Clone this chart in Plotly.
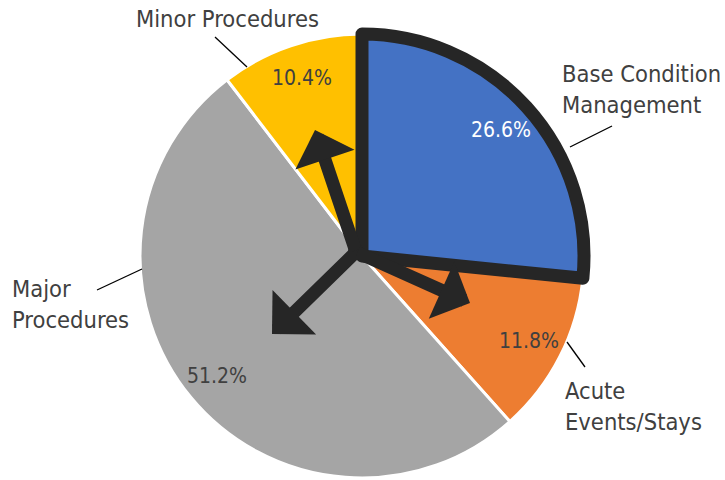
import math
import plotly.graph_objects as go

# ---- data ----
categories = ["Base Condition Management", "Acute Events/Stays", "Major Procedures", "Minor Procedures"]
shares = [26.6, 11.8, 51.2, 10.4]
label_texts = ["Base Condition<br>Management", "Acute<br>Events/Stays", "Major<br>Procedures", "Minor Procedures"]
slice_colors = ["#4472C4", "#ED7D31", "#A5A5A5", "#FFC000"]

# ---- layout constants (pixels) ----
W, H = 725, 480
CX, CY, R = 362, 256, 222
DARK = "#262626"
TEXT = "#404040"
FONT = "DejaVu Sans Condensed, DejaVu Sans, sans-serif"
LABEL_R = 0.845

def px(x):
    return x / W

def py(y):
    return 1 - y / H

total = sum(shares)
# draw highlighted slice last so its heavy outline sits on top
order = [1, 2, 3, 0]
rotation = 360 * shares[0] / total

fig = go.Figure(go.Pie(
    labels=[categories[i] for i in order],
    values=[shares[i] for i in order],
    sort=False,
    direction="clockwise",
    rotation=rotation,
    marker=dict(colors=[slice_colors[i] for i in order],
                line=dict(color=["white", "white", "white", DARK], width=[3, 3, 3, 13])),
    textinfo="none",
    hoverinfo="label+percent",
    showlegend=False,
    domain=dict(x=[px(CX - R), px(CX + R)], y=[py(CY + R), py(CY - R)]),
))

# percentage labels along each slice's mid-angle
cum = 0.0
for i, v in enumerate(shares):
    mid = (cum + v / 2) / total * 2 * math.pi
    cum += v
    lx = CX + LABEL_R * R * math.sin(mid)
    ly = CY - LABEL_R * R * math.cos(mid)
    fig.add_annotation(x=px(lx), y=py(ly), xref="paper", yref="paper",
                       text=f"{v:.1f}%", showarrow=False, xanchor="center", yanchor="middle",
                       font=dict(family=FONT, size=21, color="white" if i == 0 else TEXT))

# category labels (left x / centre y, anchor) and leader lines
label_pos = [(560, 89, "left"), (563, 406, "left"), (10, 304, "left"), (227, 19, "center")]
leaders = [((570, 147), (612, 126)), ((567, 342), (585, 367)), ((97, 290), (142, 269)), ((215, 37), (247, 67))]
for i, txt in enumerate(label_texts):
    x0, y0, anc = label_pos[i]
    fig.add_annotation(x=px(x0), y=py(y0), xref="paper", yref="paper", text=txt,
                       showarrow=False, xanchor=anc, yanchor="middle", align="left",
                       font=dict(family=FONT, size=23.5, color=TEXT))
    (a, b), (c, d) = leaders[i]
    fig.add_shape(type="line", xref="paper", yref="paper", x0=px(a), y0=py(b), x1=px(c), y1=py(d),
                  line=dict(color="black", width=1.3))

# heavy arrows from the centre toward the other slices
JX, JY = 356, 252
arrow_tips = [(315, 130), (470, 303), (272, 334)]
for tx, ty in arrow_tips:
    fig.add_annotation(x=px(tx), y=py(ty), xref="paper", yref="paper", text="",
                       showarrow=True, axref="pixel", ayref="pixel",
                       ax=JX - tx, ay=JY - ty, arrowhead=1, arrowsize=0.8,
                       arrowwidth=13, arrowcolor=DARK, standoff=0)
fig.add_shape(type="circle", xref="paper", yref="paper",
              x0=px(JX - 8), x1=px(JX + 8), y0=py(JY + 8), y1=py(JY - 8),
              fillcolor=DARK, line=dict(width=0))

fig.update_layout(width=W, height=H, margin=dict(l=0, r=0, t=0, b=0),
                  paper_bgcolor="white", plot_bgcolor="white",
                  font=dict(family=FONT, color=TEXT))
fig.write_html("out.html", config={"displayModeBar": False},
               post_script="document.body.style.margin='0';")
